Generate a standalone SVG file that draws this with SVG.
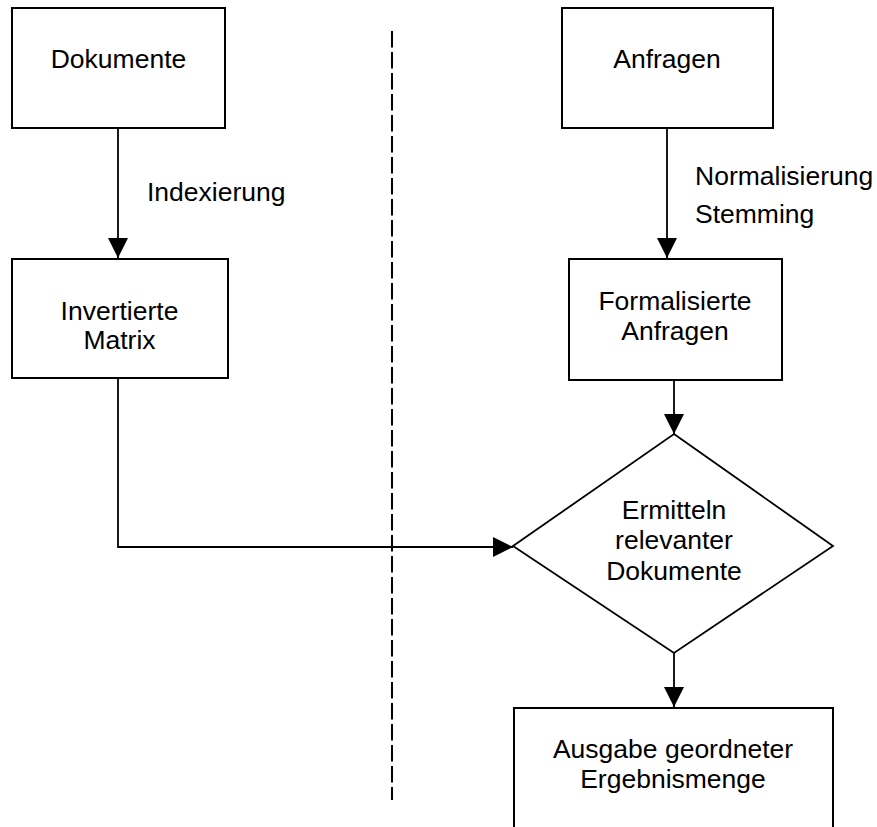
<svg xmlns="http://www.w3.org/2000/svg" width="877" height="827" viewBox="0 0 877 827">
  <defs>
    <marker id="arrow" markerWidth="20" markerHeight="20" refX="20" refY="10" orient="auto" markerUnits="userSpaceOnUse">
      <path d="M0,0 L20,10 L0,20 Z" fill="#000"/>
    </marker>
    <style>
      .box { fill: #fff; stroke: #000; stroke-width: 2; }
      .dia { fill: #fff; stroke: #000; stroke-width: 1.8; }
      .edge { fill: none; stroke: #000; stroke-width: 1.8; }
      .divider { fill: none; stroke: #000; stroke-width: 2; stroke-dasharray: 16.5 4.5; }
      text { font-family: "Liberation Sans", Arial, sans-serif; font-size: 26.5px; fill: #000; }
      .c { text-anchor: middle; }
    </style>
  </defs>
  <rect width="877" height="827" fill="#fff"/>

  <!-- vertical divider between document side and query side -->
  <line class="divider" x1="392" y1="31" x2="392" y2="800"/>

  <g id="edges">
    <line class="edge" x1="118" y1="128" x2="118" y2="258" marker-end="url(#arrow)"/>
    <polyline class="edge" points="118,378 118,547 513,547" marker-end="url(#arrow)"/>
    <line class="edge" x1="667" y1="128" x2="667" y2="258" marker-end="url(#arrow)"/>
    <line class="edge" x1="674" y1="380" x2="674" y2="434" marker-end="url(#arrow)"/>
    <line class="edge" x1="674" y1="653" x2="674" y2="707" marker-end="url(#arrow)"/>
    <text x="147" y="201">Indexierung</text>
    <text x="695" y="185">Normalisierung</text>
    <text x="695" y="223">Stemming</text>
  </g>

  <g id="dokumente">
    <rect class="box" x="12" y="8" width="213" height="120"/>
    <text class="c" x="118.5" y="68">Dokumente</text>
  </g>

  <g id="invertierte-matrix">
    <rect class="box" x="12" y="259" width="216" height="119"/>
    <text class="c" x="119.5" y="320">Invertierte</text>
    <text class="c" x="119.5" y="349">Matrix</text>
  </g>

  <g id="anfragen">
    <rect class="box" x="562" y="8" width="211" height="120"/>
    <text class="c" x="667" y="68">Anfragen</text>
  </g>

  <g id="formalisierte-anfragen">
    <rect class="box" x="569" y="259" width="213" height="121"/>
    <text class="c" x="675" y="310">Formalisierte</text>
    <text class="c" x="675" y="340">Anfragen</text>
  </g>

  <g id="ermitteln">
    <polygon class="dia" points="674,434 833,546 674,653 513,546"/>
    <text class="c" x="674" y="519">Ermitteln</text>
    <text class="c" x="674" y="549">relevanter</text>
    <text class="c" x="674" y="580">Dokumente</text>
  </g>

  <g id="ausgabe">
    <rect class="box" x="514" y="708" width="319" height="130"/>
    <text class="c" x="673" y="758">Ausgabe geordneter</text>
    <text class="c" x="673" y="788">Ergebnismenge</text>
  </g>
</svg>
